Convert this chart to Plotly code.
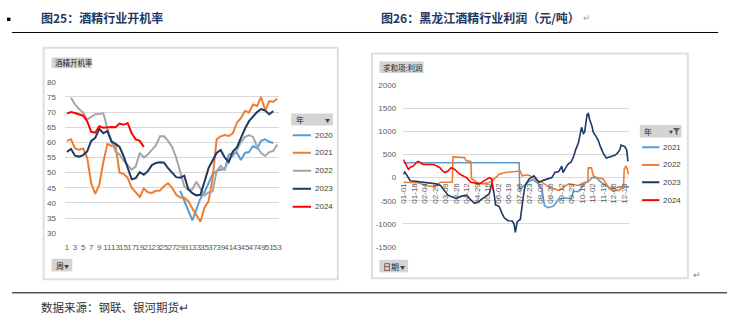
import plotly.graph_objects as go

W, H = 732, 327
def fx(p): return p / W
def fy(p): return 1 - p / H

# ---------------- Left chart: 酒精行业开机率 (weekly, %) ----------------
week_ticks = list(range(1, 54, 2))
week_tick_text = [str(w) for w in week_ticks]
rate_yticks = [30, 35, 40, 45, 50, 55, 60, 65, 70, 75, 80]

rate_2020_weeks = list(range(29, 53))
rate_2020 = [44, 41, 37.5, 34.2, 38, 41.5, 43.5, 46.5, 49.5, 50.5, 51, 51, 56, 56.5,
             56.6, 54.2, 56.5, 56.8, 58.8, 58, 60.5, 61, 60.2, 59.8]
rate_2021_weeks = list(range(1, 54))
rate_2021 = [60.5, 61, 58, 57.6, 58, 55, 46.5, 43, 46, 53.5, 59.5, 58.8, 59, 50, 49.6,
             48.3, 45, 43.5, 42, 44.8, 43.5, 43.3, 44, 44.1, 45.5, 46.5, 45, 42.7, 41.8,
             41.7, 40.6, 38.2, 35.8, 33.8, 38.5, 40.5, 48, 61, 62, 62.4, 62.1, 63, 66.5,
             68, 70.4, 69.9, 72.5, 72, 75, 70.5, 73.6, 73.4, 74.5]
rate_2022_weeks = list(range(2, 54))
rate_2022 = [74.7, 72.5, 71, 69.8, 67.5, 68.5, 69.3, 69.4, 69.6, 64.5, 60.3, 57, 56, 54,
             52.5, 51, 52, 56.5, 55, 56, 57.5, 59, 62, 62, 60.5, 58.5, 55, 50, 45.5, 44.3,
             44.5, 47, 44.5, 42.5, 43.5, 43.8, 50.5, 52.3, 51, 54.5, 55.5, 57.5, 60, 61.8,
             62.4, 61.8, 58.5, 56.5, 55.5, 56.8, 57.2, 59.3]
rate_2023_weeks = list(range(1, 53))
rate_2023 = [56.8, 57.8, 55.6, 55.3, 55.8, 57, 60.5, 61.5, 64.5, 63, 63.8, 60.3, 59.5,
             58.5, 55.5, 51.5, 47.8, 48.2, 50.2, 49.3, 50.5, 52.5, 53.2, 53.4, 53.3, 51.5,
             49.8, 48.5, 48.3, 49, 44.5, 43.2, 42.5, 42.7, 47, 51.5, 54, 56.5, 57.5, 55,
             53.5, 57, 58.3, 61.5, 64.5, 67, 68.5, 70, 71, 70.5, 69.3, 70.3]
rate_2024_weeks = list(range(1, 21))
rate_2024 = [69.5, 70, 69.7, 69.2, 68.8, 67, 63.5, 63.2, 65.3, 64.8, 65, 65.1, 65, 66.2,
             65.8, 66.4, 63, 61, 60.5, 58.5]

left_years = ["2020", "2021", "2022", "2023", "2024"]
left_colors = ["#5B9BD5", "#ED7D31", "#A5A5A5", "#1F3864", "#FF0000"]
left_series = [(rate_2020_weeks, rate_2020), (rate_2021_weeks, rate_2021),
               (rate_2022_weeks, rate_2022), (rate_2023_weeks, rate_2023),
               (rate_2024_weeks, rate_2024)]

# ---------------- Right chart: 黑龙江酒精行业利润 (元/吨) ----------------
date_ticks = ["01-01", "01-18", "02-04", "02-21", "03-09", "03-26", "04-12", "04-29",
              "05-16", "06-02", "06-19", "07-06", "07-23", "08-09", "08-26", "09-12",
              "09-29", "10-16", "11-02", "11-19", "12-06", "12-23"]
profit_yticks = [-1500, -1000, -500, 0, 500, 1000, 1500, 2000]

p2021_dates = ["01-01", "07-06", "07-07", "07-12", "07-20", "07-28", "08-05", "08-12",
               "08-16", "08-22", "08-30", "09-03", "09-08", "09-20", "09-28", "10-02",
               "10-10", "10-20", "10-28", "11-01", "11-08", "11-12", "11-20", "11-28",
               "12-08", "12-15", "12-31"]
p2021 = [320, 320, -280, -200, -100, -40, -120, -250, -600, -650, -620, -560, -460,
         -440, -460, -300, -300, -130, -60, 0, 0, -60, -140, -210, -230, -200, -200]

p2022_dates = ["01-01", "01-25", "02-07", "02-21", "02-29", "03-20", "03-21", "04-09",
               "04-11", "04-19", "04-20", "04-28", "05-08", "05-18", "05-24", "06-04",
               "06-14", "06-28", "07-08", "07-11", "07-20", "07-30", "08-04", "08-12",
               "08-23", "09-08", "09-16", "09-24", "10-10", "10-20", "10-25", "10-26",
               "10-31", "11-03", "11-08", "11-19", "11-24", "11-29", "12-07", "12-15",
               "12-20", "12-22", "12-23", "12-26", "12-28", "12-30"]
p2022 = [-100, -110, -170, -205, -100, -100, 445, 430, 370, 350, -20, -100, -136, -110,
         -67, 73, 109, 120, 142, 38, 60, 0, -67, -100, -205, -275, -200, -136, -171,
         -100, -100, 210, 210, 40, 0, -30, -136, -240, -275, -275, -205, -150, 180, 250,
         180, 70]

p2023_dates = ["01-01", "01-03", "01-06", "01-12", "01-20", "02-02", "02-12", "02-23",
               "03-01", "03-05", "03-13", "03-20", "03-26", "04-04", "04-12", "04-18",
               "04-25", "05-01", "05-08", "05-14", "05-19", "05-23", "05-26", "05-29",
               "06-04", "06-08", "06-12", "06-18", "06-25", "06-28", "06-30", "07-03",
               "07-08", "07-10", "07-11", "07-14", "07-16", "07-22", "07-30", "08-03",
               "08-07", "08-14", "08-23", "08-28", "09-02", "09-08", "09-13", "09-15",
               "09-21", "09-24", "09-28", "10-02", "10-06", "10-10", "10-15", "10-18",
               "10-20", "10-24", "10-26", "10-28", "11-01", "11-03", "11-07", "11-11",
               "11-15", "11-19", "11-24", "12-02", "12-08", "12-12", "12-16", "12-18",
               "12-21", "12-24", "12-27", "12-29"]
p2023 = [73, 120, 60, -67, -80, -100, -110, -136, -170, -240, -380, -420, -449, -400,
         -380, -470, -554, -520, -449, -400, -345, -120, -300, -589, -623, -760, -867,
         -930, -936, -1000, -1180, -950, -902, -700, -589, -300, -171, -31, 38, -20,
         -100, -60, -31, 0, 109, 130, 247, 109, 247, 300, 330, 450, 620, 750, 1083, 950,
         978, 1362, 1380, 1258, 1100, 978, 900, 805, 650, 527, 422, 456, 480, 527, 600,
         700, 690, 665, 596, 351]

p2024_dates = ["01-01", "01-04", "01-09", "01-13", "01-17", "01-22", "01-25", "02-02",
               "02-10", "02-18", "02-24", "02-29", "03-04", "03-08", "03-13", "03-18",
               "03-24", "04-01", "04-06", "04-12", "04-19", "04-26", "05-03", "05-11",
               "05-19", "05-23", "05-25"]
p2024 = [390, 300, 178, 230, 247, 330, 351, 282, 290, 282, 250, 213, 150, 109, 142, 213,
         178, 73, 40, 0, -100, -120, -136, -67, 0, -31, -270]

right_years = ["2021", "2022", "2023", "2024"]
right_colors = ["#5B9BD5", "#ED7D31", "#1F3864", "#FF0000"]
right_series = [(p2021_dates, p2021), (p2022_dates, p2022),
                (p2023_dates, p2023), (p2024_dates, p2024)]

BASE_YEAR = "2024-"

fig = go.Figure()
for (xs, ys), c in zip(left_series, left_colors):
    fig.add_trace(go.Scatter(x=xs, y=ys, mode="lines", line=dict(color=c, width=2),
                             xaxis="x", yaxis="y", showlegend=False, hoverinfo="skip"))
for (ds, ys), c in zip(right_series, right_colors):
    fig.add_trace(go.Scatter(x=[BASE_YEAR + d for d in ds], y=ys, mode="lines",
                             line=dict(color=c, width=1.6),
                             xaxis="x2", yaxis="y2", showlegend=False, hoverinfo="skip"))

NUMFONT = "Liberation Sans, Arial, sans-serif"
CJK = "Noto Sans CJK SC, sans-serif"
TICKC = "#595959"
GRID = "#D9D9D9"

fig.update_layout(
    width=W, height=H, autosize=False,
    margin=dict(l=0, r=0, t=0, b=0),
    paper_bgcolor="white", plot_bgcolor="white",
    xaxis=dict(domain=[fx(61.5), fx(278)], range=[0.5, 53.5], anchor="y",
               tickmode="array", tickvals=week_ticks, ticktext=week_tick_text,
               tickangle=0, showgrid=False, zeroline=False, showline=False, ticks="",
               tickfont=dict(family=NUMFONT, size=8, color=TICKC), ticklabelstandoff=8),
    yaxis=dict(domain=[fy(235.7), fy(80)], range=[30, 80], anchor="x",
               tickmode="array", tickvals=rate_yticks, ticktext=[str(v) for v in rate_yticks],
               showgrid=True, gridcolor=GRID, gridwidth=1, zeroline=False, showline=False,
               ticks="", tickfont=dict(family=NUMFONT, size=8, color=TICKC),
               ticklabelstandoff=8),
    xaxis2=dict(domain=[fx(403), fx(631.5)], type="date",
                range=["2023-12-31 12:00", "2024-12-31 12:00"],
                anchor="free", position=fy(178.5),
                tickmode="array", tickvals=[BASE_YEAR + d for d in date_ticks],
                ticktext=date_ticks, tickangle=-90, showgrid=False, zeroline=False,
                showline=False, ticks="",
                tickfont=dict(family=NUMFONT, size=8, color=TICKC), ticklabelstandoff=3),
    yaxis2=dict(domain=[fy(250.05), fy(83.1)], range=[-1500, 2000], anchor="x2",
                tickmode="array", tickvals=profit_yticks,
                ticktext=[str(v) for v in profit_yticks],
                showgrid=True, gridcolor=GRID, gridwidth=1, zeroline=False, showline=False,
                ticks="", tickfont=dict(family=NUMFONT, size=8, color=TICKC),
                ticklabelstandoff=6),
)

shapes = []
annotations = []

def rect(x0, y0, x1, y1, fill=None, line=None, lw=1):
    shapes.append(dict(type="rect", xref="paper", yref="paper",
                       x0=fx(x0), x1=fx(x1), y0=fy(y1), y1=fy(y0),
                       fillcolor=fill if fill else "rgba(0,0,0,0)",
                       line=dict(color=line if line else "rgba(0,0,0,0)", width=lw if line else 0),
                       layer="below" if fill and not line else "above"))

def hline(x0, x1, y, color, lw=1):
    shapes.append(dict(type="line", xref="paper", yref="paper",
                       x0=fx(x0), x1=fx(x1), y0=fy(y), y1=fy(y),
                       line=dict(color=color, width=lw)))

def text(x, y, s, size=8, color="#262626", family=CJK, xanchor="left"):
    annotations.append(dict(xref="paper", yref="paper", x=fx(x), y=fy(y), text=s,
                            showarrow=False, xanchor=xanchor, yanchor="middle",
                            font=dict(family=family, size=size, color=color)))

# page decorations
rect(3, 14, 6.5, 17.5, fill="#000000")
hline(8, 721, 29.3, "#000000", 1)
hline(8, 730, 297, "#000000", 1)
text(35, 13.5, "<b>图25：酒精行业开机率</b>", size=12, color="#1F3864")
text(379, 13.5, "<b>图26：黑龙江酒精行业利润（元/吨）</b>", size=12, color="#1F3864")
text(583, 13.5, "↵", size=9, color="#A0A0A0")
text(35, 312, "数据来源：钢联、银河期货↵", size=11.5, color="#333333")
text(694, 278, "↵", size=9, color="#808080")

# panels
rect(40, 45, 337, 283, line="#DEDEDE", lw=2)
rect(371.5, 51, 690.5, 282, line="#DEDEDE", lw=2)

# field buttons
rect(48, 55, 88.5, 66, fill="#D4D4D4")
text(49.5, 60.5, "酒精开机率", size=7.5)
rect(379, 59, 423.5, 71, fill="#D4D4D4")
text(380.5, 65, "求和项:利润", size=7.5)
rect(48, 262, 69, 275, fill="#D4D4D4")
text(50, 268.5, "周", size=8)
text(59, 268.5, "▼", size=5, color="#404040")
rect(379, 263, 408, 276, fill="#D4D4D4")
text(381, 269.5, "日期", size=8)
text(398, 269.5, "▼", size=5, color="#404040")

# left legend
rect(290, 112.7, 332, 125, fill="#D4D4D4")
text(293, 119, "年", size=8)
text(322, 119, "▼", size=5, color="#404040")
left_leg_y = [135, 153, 171.5, 190, 208.5]
for yr, c, ly in zip(left_years, left_colors, left_leg_y):
    hline(291.5, 310, ly, c, 2)
    text(311.5, ly, yr, size=8, color="#404040", family=NUMFONT)

# right legend
rect(642, 124.3, 684, 137.3, fill="#D4D4D4")
text(644.5, 131, "年", size=8)
text(669, 131.5, "▼", size=4, color="#404040")
shapes.append(dict(type="path", xref="paper", yref="paper",
                   path=(f"M {fx(675.5)} {fy(127.5)} L {fx(682.5)} {fy(127.5)} "
                         f"L {fx(679.8)} {fy(131)} L {fx(679.8)} {fy(135)} "
                         f"L {fx(678.2)} {fy(134)} L {fx(678.2)} {fy(131)} Z"),
                   fillcolor="#606060", line=dict(width=0)))
right_leg_y = [147.3, 165.5, 183.3, 201.7]
for yr, c, ly in zip(right_years, right_colors, right_leg_y):
    hline(644.3, 661.7, ly, c, 2)
    text(663.5, ly, yr, size=8, color="#404040", family=NUMFONT)

fig.update_layout(shapes=shapes, annotations=annotations)
fig.write_html("out.html")
